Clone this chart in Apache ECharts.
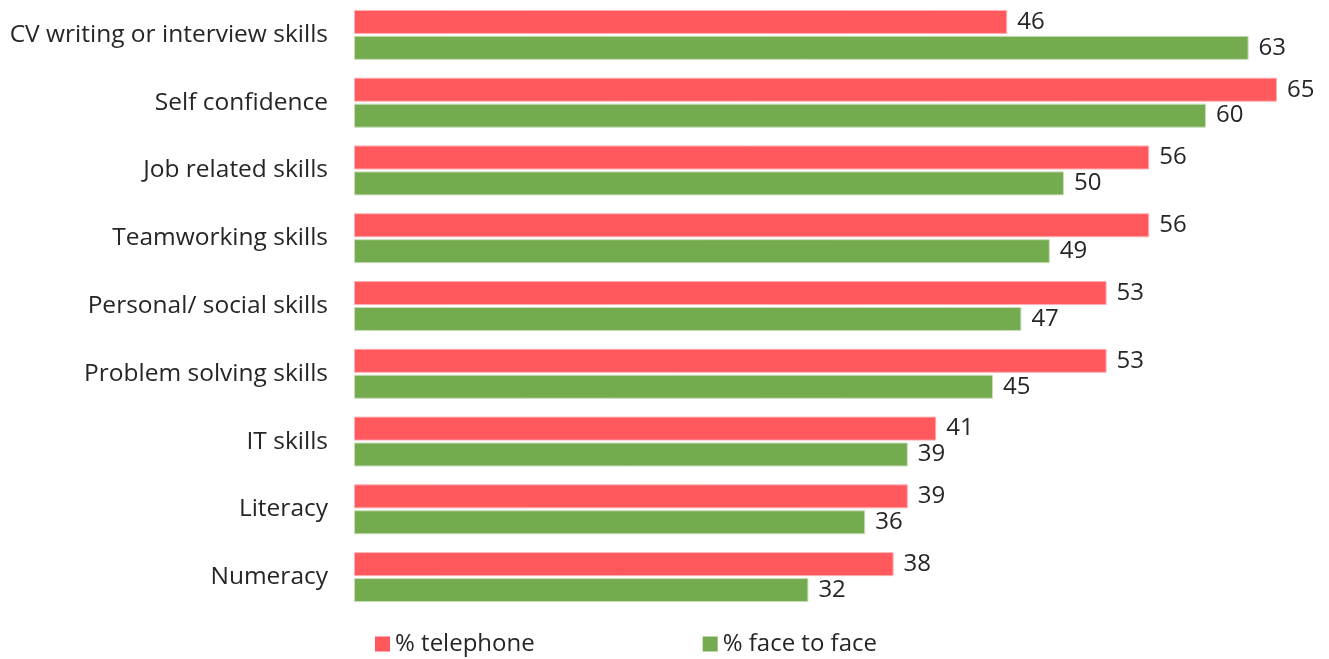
<!DOCTYPE html>
<html><head><meta charset="utf-8">
<script src="https://cdn.jsdelivr.net/npm/echarts@6/dist/echarts.min.js"></script>
<style>html,body{margin:0;padding:0;background:#fff}#c{width:1329px;height:659px}</style>
</head><body><div id="c"></div>
<script>
const categories = ["CV writing or interview skills","Self confidence","Job related skills","Teamworking skills","Personal/ social skills","Problem solving skills","IT skills","Literacy","Numeracy"];
const telephone = [46,65,56,56,53,53,41,39,38];
const faceToFace = [63,60,50,49,47,45,39,36,32];
const seriesNames = ["% telephone","% face to face"];

const chart = echarts.init(document.getElementById('c'));
const font = "'Open Sans', 'Noto Sans', sans-serif";
const lbl = {show:true, position:'right', distance:10, fontSize:24, color:'#262626', fontFamily:font};
chart.setOption({
  animation:false,
  grid:{left:354, right:52, top:1, height:610, containLabel:false},
  xAxis:{type:'value', min:0, max:65, show:false},
  yAxis:{type:'category', data:categories, inverse:true,
    axisLine:{show:false}, axisTick:{show:false},
    axisLabel:{fontSize:24.5, color:'#262626', fontFamily:font, margin:26}},
  legend:{top:627, left:370, itemWidth:15, itemHeight:15, itemGap:168,
    itemStyle:{borderWidth:0},
    textStyle:{fontSize:24, color:'#262626', fontFamily:font},
    data:seriesNames, icon:'rect'},
  series:[
    {name:seriesNames[0], type:'bar', data:telephone, barWidth:24, barGap:'8%',
     itemStyle:{color:'#FF585D', borderColor:'#FFB0B2', borderWidth:1}, label:lbl},
    {name:seriesNames[1], type:'bar', data:faceToFace, barWidth:24,
     itemStyle:{color:'#75AB4F', borderColor:'#C8DDB8', borderWidth:1}, label:lbl}
  ]
});
</script></body></html>
